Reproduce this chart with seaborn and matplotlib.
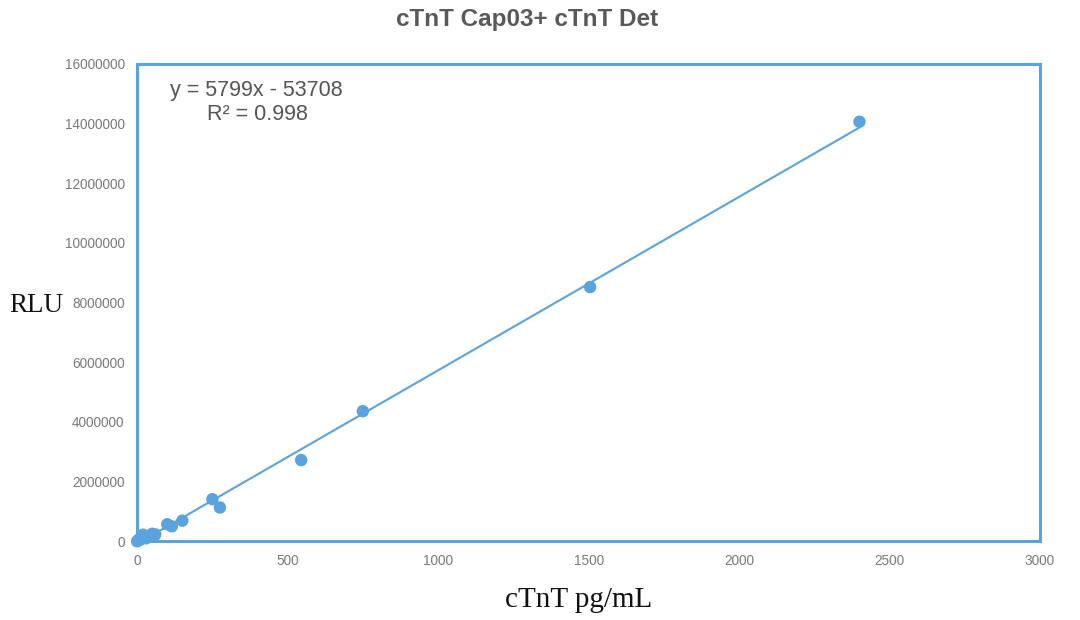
import matplotlib
matplotlib.use("Agg")
import matplotlib.pyplot as plt
import seaborn as sns
import numpy as np
import pandas as pd

# Data
conc = [0, 3, 6, 10, 15, 20, 25, 30, 40, 50, 55, 60,
        100, 115, 150, 250, 275, 545, 750, 1505, 2400]
rlu = [0, 30000, 60000, 50000, 150000, 220000, 120000, 100000, 150000, 250000, 150000, 230000,
       570000, 500000, 690000, 1410000, 1130000, 2720000, 4360000, 8520000, 14060000]

title = "cTnT Cap03+ cTnT Det"
xlabel = "cTnT pg/mL"
ylabel = "RLU"
eq_line1 = "y = 5799x - 53708"
eq_line2 = "R² = 0.998"
xticks = [0, 500, 1000, 1500, 2000, 2500, 3000]
yticks = [0, 2000000, 4000000, 6000000, 8000000, 10000000, 12000000, 14000000, 16000000]

df = pd.DataFrame({"conc": conc, "rlu": rlu})

sns.set_theme(style="white")
plt.rcParams['font.family'] = ['Liberation Sans', 'DejaVu Sans']

blue = "#5BA3DF"
fig = plt.figure(figsize=(10.8, 6.2), dpi=100)
ax = fig.add_axes([0.127, 0.127, 0.836, 0.770])

sns.regplot(data=df, x="conc", y="rlu", ax=ax, ci=None, truncate=True,
            scatter_kws=dict(s=80, color=blue, edgecolor="none", alpha=1, zorder=3,
                             clip_on=False),
            line_kws=dict(color=blue, lw=1.5, zorder=2))

ax.set_xlim(0, 3000)
ax.set_ylim(0, 16000000)
ax.set_xticks(xticks)
ax.set_yticks(yticks)
ax.set_xticklabels([str(t) for t in xticks])
ax.set_yticklabels([str(t) for t in yticks])
ax.tick_params(axis="y", labelsize=9.8, colors="#7a7a7a", length=0, pad=9)
ax.tick_params(axis="x", labelsize=9.8, colors="#7a7a7a", length=0, pad=9)
for s in ax.spines.values():
    s.set_color(blue)
    s.set_linewidth(2.2)
ax.grid(False)
ax.set_xlabel("")
ax.set_ylabel("")

fig.text(0.488, 0.968, title, ha="center", va="center", fontsize=17.5,
         fontweight="bold", color="#595959")
fig.text(0.536, 0.033, xlabel, ha="center", va="center", fontsize=21,
         family=["Liberation Serif", "DejaVu Serif"], color="#111111")
fig.text(0.034, 0.507, ylabel, ha="center", va="center", fontsize=19.5,
         family=["Liberation Serif", "DejaVu Serif"], color="#111111")

ax.text(0.036, 0.945, eq_line1, transform=ax.transAxes, ha="left", va="center",
        fontsize=15.5, color="#555555")
ax.text(0.077, 0.893, eq_line2, transform=ax.transAxes, ha="left", va="center",
        fontsize=15.5, color="#555555")

fig.savefig("out.png", dpi=100)
